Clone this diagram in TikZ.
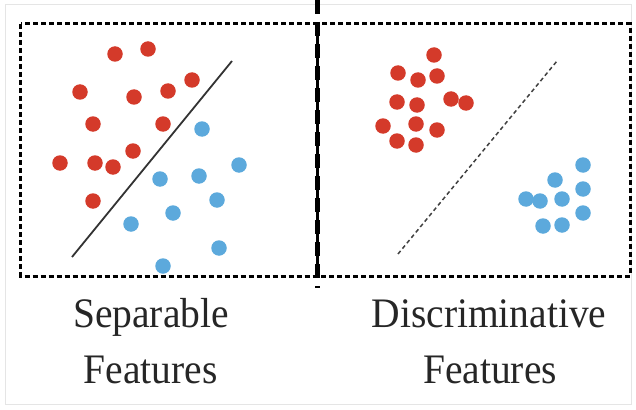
\documentclass[tikz,border=0pt]{standalone}
\usepackage{fontspec}
\setmainfont[FakeStretch=0.94]{Liberation Serif}
\usepackage{tikz}

\definecolor{dotred}{HTML}{D43A2A}
\definecolor{dotblue}{HTML}{5CA9DC}

\begin{document}
\begin{tikzpicture} [x=1pt, y=-1pt,
    reddot/.style = {circle, fill=dotred, inner sep=0pt, minimum size=15.5pt},
    bluedot/.style = {circle, fill=dotblue, inner sep=0pt, minimum size=15.5pt},
    panel/.style = {draw=black, line width=3pt, dash pattern=on 5pt off 3pt},
    divider/.style = {draw=black, line width=5pt, dash pattern=on 14pt off 8pt},
    caption/.style = {anchor=base, inner sep=0pt, font=\fontsize{42}{50}\selectfont, text=black!85}]

\useasboundingbox (0,0) rectangle (636,409);
\draw[black!10, line width=1pt] (5,5) rectangle (631,404);

% the two frames and the line between them
\draw[panel] (20.5,24) rectangle (317,276);
\draw[panel] (317,24) rectangle (630,276);
\coordinate (top) at (317,0);
\coordinate (bottom) at (317,288);
\draw[divider] (top) -- (bottom);

% separable: red points
\node (sr1) at (115,54) [reddot] {};
\node (sr2) at (148,49) [reddot] {};
\node (sr3) at (192,80) [reddot] {};
\node (sr4) at (80,92) [reddot] {};
\node (sr5) at (134,97) [reddot] {};
\node (sr6) at (168,91) [reddot] {};
\node (sr7) at (93,124) [reddot] {};
\node (sr8) at (163,124) [reddot] {};
\node (sr9) at (133,151) [reddot] {};
\node (sr10) at (60,163) [reddot] {};
\node (sr11) at (95,163) [reddot] {};
\node (sr12) at (113,167) [reddot] {};
\node (sr13) at (93,201) [reddot] {};

% separable: blue points
\node (sb1) at (202,129) [bluedot] {};
\node (sb2) at (239,165) [bluedot] {};
\node (sb3) at (160,179) [bluedot] {};
\node (sb4) at (199,176) [bluedot] {};
\node (sb5) at (217,200) [bluedot] {};
\node (sb6) at (173,213) [bluedot] {};
\node (sb7) at (131,224) [bluedot] {};
\node (sb8) at (219,248) [bluedot] {};
\node (sb9) at (163,266) [bluedot] {};

\coordinate (sepA) at (72,257);
\coordinate (sepB) at (232,61);
\draw[black!80, line width=1.8pt] (sepA) -- (sepB);

% discriminative: red points
\node (dr1) at (434,55) [reddot] {};
\node (dr2) at (398,73) [reddot] {};
\node (dr3) at (418,80) [reddot] {};
\node (dr4) at (437,76) [reddot] {};
\node (dr5) at (397,102) [reddot] {};
\node (dr6) at (417,105) [reddot] {};
\node (dr7) at (451,99) [reddot] {};
\node (dr8) at (466,103) [reddot] {};
\node (dr9) at (383,126) [reddot] {};
\node (dr10) at (416,124) [reddot] {};
\node (dr11) at (437,130) [reddot] {};
\node (dr12) at (397,141) [reddot] {};
\node (dr13) at (416,145) [reddot] {};

% discriminative: blue points
\node (db1) at (583,165) [bluedot] {};
\node (db2) at (555,180) [bluedot] {};
\node (db3) at (583,189) [bluedot] {};
\node (db4) at (526,199) [bluedot] {};
\node (db5) at (540,201) [bluedot] {};
\node (db6) at (562,199) [bluedot] {};
\node (db7) at (583,213) [bluedot] {};
\node (db8) at (543,226) [bluedot] {};
\node (db9) at (562,225) [bluedot] {};

\coordinate (disA) at (398,254);
\coordinate (disB) at (557,61);
\draw[black!75, line width=1.5pt, dash pattern=on 4pt off 3pt] (disA) -- (disB);

% captions
\node (sepT) at (151,327) [caption] {Separable};
\node (sepF) at (150.5,383) [caption] {Features};
\node (disT) at (489,327) [caption] {Discriminative};
\node (disF) at (490,383) [caption] {Features};

\end{tikzpicture}
\end{document}
